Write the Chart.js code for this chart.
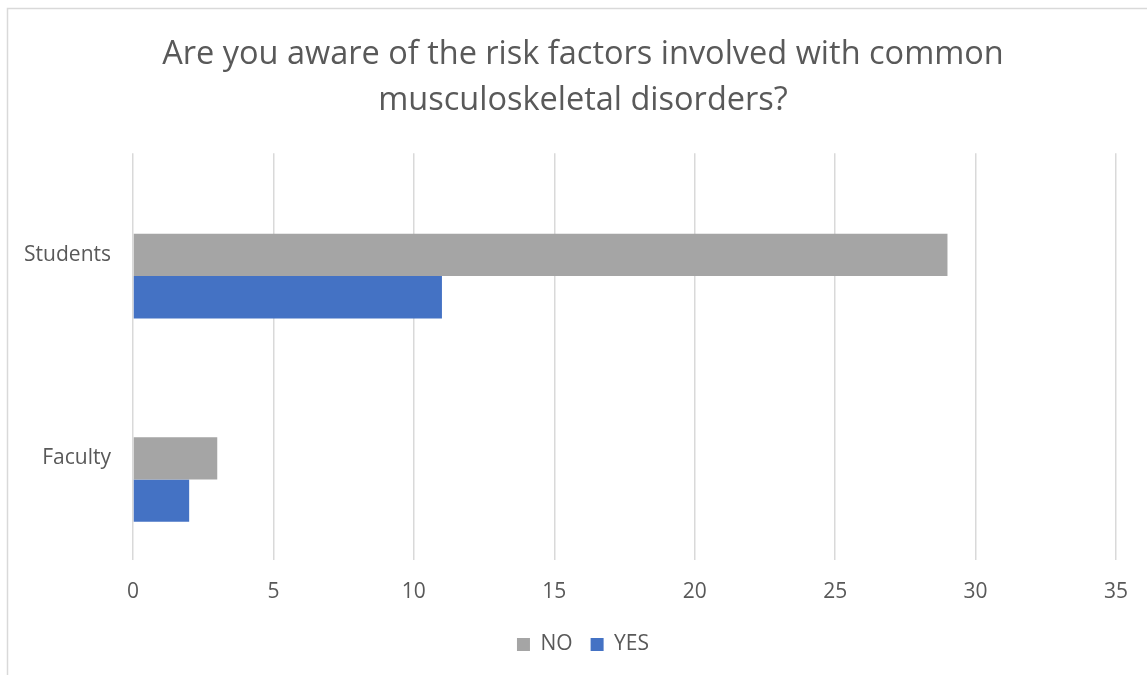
<!DOCTYPE html>
<html>
<head>
<meta charset="utf-8">
<script src="https://cdn.jsdelivr.net/npm/chart.js@4/dist/chart.umd.min.js"></script>
<style>
    html, body { margin: 0; padding: 0; background: #fff; overflow: hidden; }
    #wrap { position: relative; width: 1147px; height: 675px; }
</style>
</head>
<body>
<div id="wrap"><canvas id="chart"></canvas></div>
<script>
// Dados do gráfico
const categories = ['Students', 'Faculty'];
const noValues = [29, 3];
const yesValues = [11, 2];
// série vazia do Excel (ocupa espaço acima das barras, sem legenda)
const emptyValues = [null, null];
const seriesNames = ['NO', 'YES'];
const titleLines = ['Are you aware of the risk factors involved with common', 'musculoskeletal disorders?'];

const FONT = "'Open Sans', sans-serif";
const TEXT = '#595959';

// Moldura clara do gráfico (só topo e lado esquerdo aparecem)
const framePlugin = {
    id: 'frame',
    beforeDraw(chart) {
        const ctx = chart.ctx;
        ctx.save();
        ctx.strokeStyle = '#d9d9d9';
        ctx.lineWidth = 1.5;
        ctx.strokeRect(7.5, 8.5, 1200, 700);
        ctx.restore();
    },
    // o eixo Y é estreito para centralizar título/legenda; evita cortar os rótulos
    afterLayout(chart) {
        chart.scales.y.left = 0;
    }
};

const ctx = document.getElementById('chart').getContext('2d');
new Chart(ctx, {
    type: 'bar',
    data: {
        labels: categories,
        datasets: [
            { label: '', data: emptyValues, backgroundColor: 'transparent' },
            { label: seriesNames[0], data: noValues, backgroundColor: '#A5A5A5' },
            { label: seriesNames[1], data: yesValues, backgroundColor: '#4472C4' }
        ]
    },
    options: {
        indexAxis: 'y',
        responsive: true,
        maintainAspectRatio: false,
        animation: false,
        categoryPercentage: 0.624,
        barPercentage: 1,
        layout: { padding: { left: 49, right: 30, top: 0, bottom: 10 } },
        plugins: {
            title: {
                display: true,
                text: titleLines,
                color: TEXT,
                font: { family: FONT, size: 32.5, weight: 'normal', lineHeight: 1.42 },
                padding: { top: 32, bottom: 29 }
            },
            legend: {
                position: 'bottom',
                labels: {
                    color: TEXT,
                    font: { family: FONT, size: 21 },
                    boxWidth: 13,
                    boxHeight: 13,
                    padding: 18,
                    filter: item => item.text !== ''
                }
            },
            tooltip: { enabled: false }
        },
        scales: {
            x: {
                min: 0,
                max: 35,
                ticks: { stepSize: 5, color: TEXT, font: { family: FONT, size: 21 }, padding: 19 },
                grid: { color: '#d9d9d9', lineWidth: 1.5, drawTicks: false },
                border: { display: false },
                afterFit(scale) { scale.height = 56; }
            },
            y: {
                ticks: { color: TEXT, font: { family: FONT, size: 21 }, padding: 22 },
                grid: { display: false, drawTicks: false },
                border: { display: false },
                afterFit(scale) { scale.width = 84; }
            }
        }
    },
    plugins: [framePlugin]
});
</script>
</body>
</html>
